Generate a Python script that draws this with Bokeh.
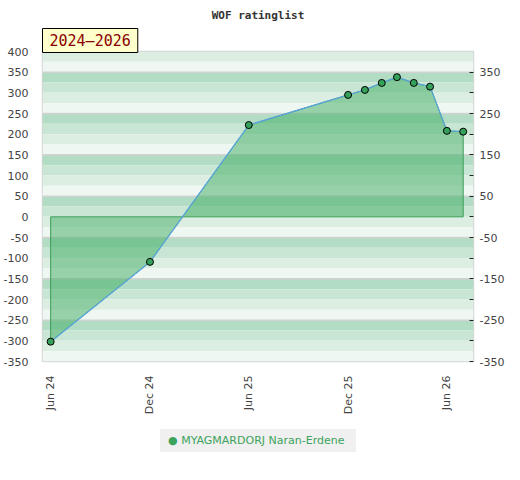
import math
import pandas as pd
from bokeh.plotting import figure
from bokeh.models import (BoxAnnotation, Span, LinearAxis, FixedTicker, DatetimeTickFormatter,
                          Title, Range1d, ColumnDataSource)
from bokeh.embed import file_html
from bokeh.resources import INLINE

# ---- data ----
title_text = "WOF ratinglist"
period_text = "2024–2026"
player = "MYAGMARDORJ Naran-Erdene"
dates = ["2024-06-01", "2024-12-01", "2025-06-01", "2025-12-01", "2026-01-01",
         "2026-02-01", "2026-03-01", "2026-04-01", "2026-05-01", "2026-06-01", "2026-07-01"]
ratings = [-302, -109, 222, 295, 307, 324, 338, 324, 315, 208, 206]
x_tick_dates = ["2024-06-01", "2024-12-01", "2025-06-01", "2025-12-01", "2026-06-01"]
y_left_ticks = list(range(-350, 401, 50))
y_right_major = [350, 250, 150, 50, -50, -150, -250, -350]
y_right_minor = [300, 200, 100, 0, -100, -200, -300]
band_colors = ["#b3dcc4", "#c8e6d3", "#dcede2", "#eff7f2"]
separator_levels = [350, 250, 150, 50, -50, -150, -250]

x = pd.to_datetime(dates)
src = ColumnDataSource(dict(x=x, y=ratings))

p = figure(width=504, height=None, frame_width=431, frame_height=310, x_axis_type="datetime",
           x_range=Range1d(pd.Timestamp("2024-05-17"), pd.Timestamp("2026-07-20")),
           y_range=Range1d(-350, 400), title=None,
           output_backend="svg", toolbar_location=None,
           min_border_left=37, min_border_right=30, min_border_top=50, min_border_bottom=0)
p.xgrid.visible = False
p.ygrid.visible = False
p.outline_line_color = "#d6d6d6"
p.outline_line_width = 1.5

# background stripes
for top in range(400, -350, -25):
    idx = ((350 - top) // 25) % 4
    p.add_layout(BoxAnnotation(bottom=top - 25, top=top, fill_color=band_colors[idx],
                               fill_alpha=1, line_color=None, level="underlay"))
for lv in separator_levels:
    p.add_layout(Span(location=lv, dimension="width", line_color="#d2d2d2",
                      line_width=1.5, level="underlay"))

# area fill between series and 0
px = [x[0]] + list(x) + [x[-1]]
py = [0] + ratings + [0]
p.patch(px, py, fill_color="#3fac62", fill_alpha=0.5, line_color="#3a9e58", line_width=1)
p.line("x", "y", source=src, line_color="#5aa5dc", line_width=1.3)
p.scatter("x", "y", source=src, size=7, fill_color="#36a15a", line_color="black", line_width=1)

# period box (closest to the frame) and main title above it
p.add_layout(Title(text=period_text, align="left", offset=0, standoff=-2,
                   text_font="DejaVu Sans Mono", text_font_size="15px", text_font_style="normal",
                   text_color="#8b0000", background_fill_color="#ffffcc", background_fill_alpha=1,
                   border_line_color="black", border_line_width=1, padding=(7, 3)), "above")
p.add_layout(Title(text=title_text, align="center", standoff=12,
                   text_font="DejaVu Sans Mono", text_font_size="11px", text_font_style="bold",
                   text_color="#333333"), "above")

# left axis
ya = p.yaxis[0]
ya.ticker = FixedTicker(ticks=y_left_ticks)
ya.major_label_overrides = {v: str(v) for v in y_left_ticks}
ya.axis_line_color = None
ya.major_tick_line_color = None
ya.minor_tick_line_color = None
ya.major_label_standoff = 8
ya.major_label_text_font = "DejaVu Sans"
ya.major_label_text_font_size = "11px"
ya.major_label_text_color = "#444444"

# right axis
ra = LinearAxis(ticker=FixedTicker(ticks=y_right_major, minor_ticks=y_right_minor))
ra.major_label_overrides = {v: str(v) for v in y_right_major}
ra.axis_line_color = None
ra.major_tick_in = 4
ra.major_tick_out = 0
ra.minor_tick_in = 4
ra.minor_tick_out = 0
ra.major_tick_line_color = "#222222"
ra.minor_tick_line_color = "#222222"
ra.major_label_standoff = 6
ra.major_label_text_font = "DejaVu Sans"
ra.major_label_text_font_size = "11px"
ra.major_label_text_color = "#444444"
p.add_layout(ra, "right")

# x axis
xa = p.xaxis[0]
xa.ticker = FixedTicker(ticks=[pd.Timestamp(d).value / 1e6 for d in x_tick_dates])
xa.formatter = DatetimeTickFormatter(days="%b %y", months="%b %y", years="%b %y")
xa.major_label_orientation = math.pi / 2
xa.axis_line_color = None
xa.major_tick_line_color = None
xa.minor_tick_line_color = None
xa.major_label_standoff = 8
xa.major_label_text_font = "DejaVu Sans"
xa.major_label_text_font_size = "11px"
xa.major_label_text_color = "#444444"

# series key below the axis
p.add_layout(Title(text="●  " + player, align="center", standoff=19,
                   text_font="DejaVu Sans", text_font_size="11px", text_font_style="normal",
                   text_color="#3ca35c", background_fill_color="#f0f0f0", background_fill_alpha=1,
                   padding=(8, 5)), "below")

open("out.html", "w").write(file_html(p, INLINE))
